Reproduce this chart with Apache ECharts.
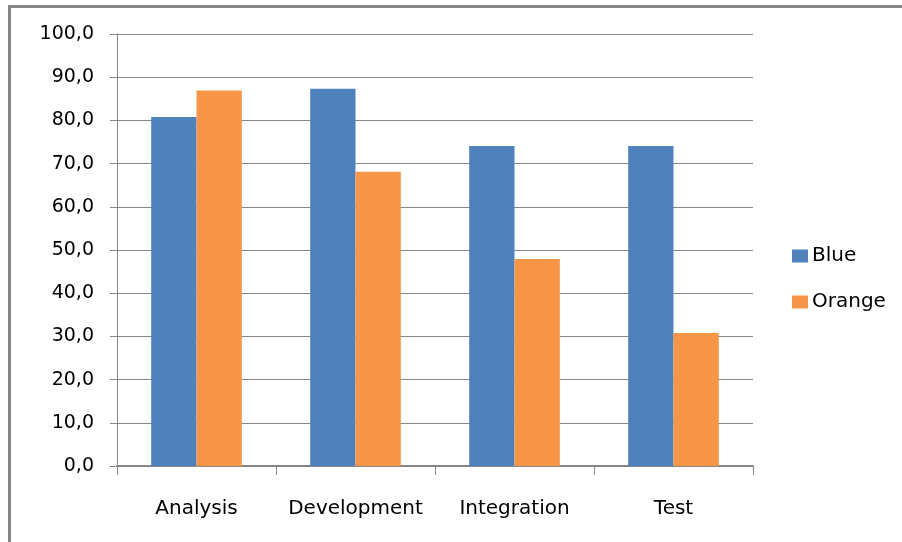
<!DOCTYPE html>
<html><head><meta charset="utf-8">
<script src="https://cdn.jsdelivr.net/npm/echarts@6/dist/echarts.min.js"></script>
<style>html,body{margin:0;padding:0;background:#fff;}#c{width:902px;height:542px;}</style>
</head><body><div id="c"></div>
<script>
const categories = ['Analysis', 'Development', 'Integration', 'Test'];
const blueValues = [80.8, 87.3, 74.1, 74.1];
const orangeValues = [86.9, 68.1, 47.9, 30.8];
const seriesNames = ['Blue', 'Orange'];
const yTicks = [0, 10, 20, 30, 40, 50, 60, 70, 80, 90, 100];

const chart = echarts.init(document.getElementById('c'), null, {renderer: 'canvas'});
const font = 'DejaVu Sans';
chart.setOption({
  animation: false,
  backgroundColor: '#fff',
  graphic: [{
    type: 'rect', silent: true,
    shape: {x: 9.5, y: 6.5, width: 1000, height: 1000},
    style: {fill: 'none', stroke: '#868686', lineWidth: 3}
  }],
  grid: {left: 117, right: 149, top: 34, bottom: 76, containLabel: false},
  legend: {
    orient: 'vertical', left: 792, top: 246, padding: 0,
    itemWidth: 16, itemHeight: 13, itemGap: 26,
    icon: 'rect',
    textStyle: {fontFamily: font, fontSize: 20, color: '#000', padding: [0, 0, 0, -1]},
    data: seriesNames
  },
  xAxis: {
    type: 'category', data: categories,
    axisLine: {lineStyle: {color: '#868686', width: 2}},
    axisTick: {show: true, interval: 0, length: 9, lineStyle: {color: '#868686'}},
    axisLabel: {interval: 0, margin: 33, fontFamily: font, fontSize: 20, color: '#000'}
  },
  yAxis: {
    type: 'value', min: yTicks[0], max: yTicks[yTicks.length - 1], interval: 10,
    axisLine: {show: true, lineStyle: {color: '#868686', width: 1}},
    axisTick: {show: true, length: 7, lineStyle: {color: '#868686'}},
    splitLine: {lineStyle: {color: '#868686', width: 1}},
    axisLabel: {margin: 23, fontFamily: font, fontSize: 19, color: '#000',
      formatter: v => v.toFixed(1).replace('.', ',')}
  },
  series: [
    {name: seriesNames[0], type: 'bar', data: blueValues, barGap: '0%', barCategoryGap: '43%',
     itemStyle: {color: '#4f81bd'}},
    {name: seriesNames[1], type: 'bar', data: orangeValues, barGap: '0%', barCategoryGap: '43%',
     itemStyle: {color: '#f79646'}}
  ]
});
</script></body></html>
